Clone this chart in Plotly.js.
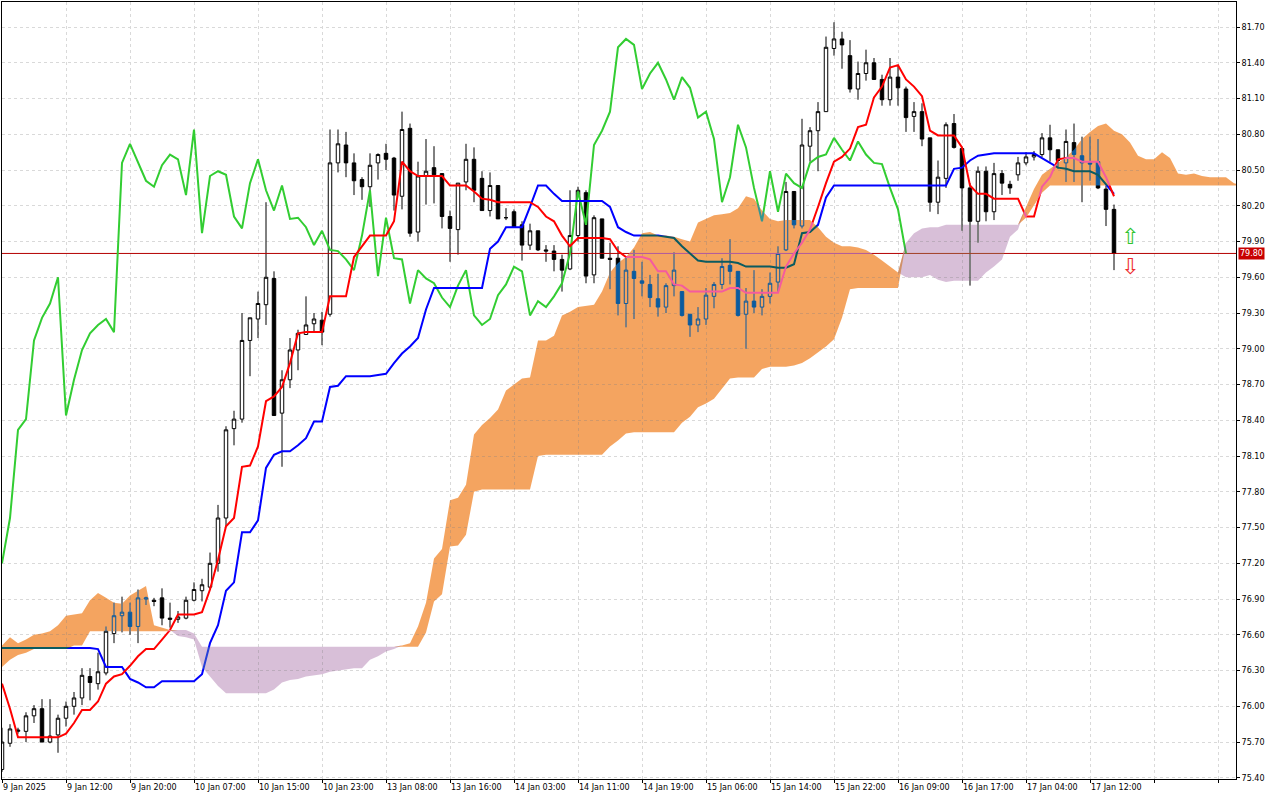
<!DOCTYPE html>
<html><head><meta charset="utf-8">
<script src="https://cdn.plot.ly/plotly-3.0.1.min.js"></script>
<style>
html,body{margin:0;padding:0;background:#fff;}
#chart{width:1280px;height:800px;}
.scatterlayer .js-fill{mix-blend-mode:exclusion;}
</style></head><body><div id="chart"></div>
<script>
const opens=[75.47,75.69,75.79,75.79,75.92,75.98,75.70,75.76,75.90,76.00,
76.07,76.25,76.19,76.28,76.61,76.76,76.79,76.67,76.90,76.89,
76.91,76.74,76.73,76.74,76.89,76.97,77.00,77.20,77.58,78.33,
78.41,79.07,79.25,79.37,79.59,78.46,78.74,78.99,79.12,79.21,
79.24,79.29,80.56,80.71,80.56,80.42,80.36,80.56,80.64,80.60,
80.28,80.85,79.98,80.45,80.52,80.47,80.11,80.00,80.40,80.59,
80.43,80.16,80.37,80.10,80.15,80.04,79.87,79.99,79.83,79.82,
79.75,79.67,79.95,80.31,79.62,80.09,79.76,79.76,79.38,79.65,
79.57,79.54,79.42,79.35,79.53,79.48,79.29,79.20,79.25,79.44,
79.54,79.70,79.65,79.29,79.40,79.35,79.44,79.56,79.83,80.32,
80.03,80.70,80.83,80.99,81.52,81.60,81.46,81.18,81.31,81.40,
81.26,81.09,81.28,81.18,80.95,80.99,80.77,80.23,80.43,80.89,
80.68,80.35,80.07,80.49,80.15,80.47,80.38,80.46,80.56,80.61,
80.63,80.77,80.67,80.56,80.73,80.62,80.56,80.57,80.34,80.17];
const highs=[75.82,75.85,75.82,75.95,76.01,76.06,76.06,75.93,76.04,76.12,
76.32,76.32,76.45,76.67,76.87,76.92,76.87,76.98,76.92,76.91,
76.99,76.87,76.80,76.92,77.04,77.07,77.29,77.69,78.35,78.48,
79.30,79.26,79.48,80.23,79.65,78.82,79.09,79.16,79.44,79.30,
79.31,80.84,80.84,80.82,80.64,80.44,80.64,80.64,80.72,80.61,
80.99,80.89,80.57,80.76,80.70,80.47,80.16,80.39,80.72,80.69,
80.49,80.48,80.37,80.18,80.17,80.07,80.05,79.99,79.87,79.87,
79.79,80.33,80.36,80.33,80.12,80.09,79.89,79.86,79.77,79.83,
79.73,79.62,79.63,79.55,79.81,79.48,79.29,79.35,79.51,79.56,
79.76,79.92,79.65,79.51,79.66,79.50,79.64,79.86,80.40,80.32,
80.93,80.86,81.07,81.62,81.74,81.66,81.59,81.41,81.51,81.44,
81.30,81.44,81.37,81.20,81.07,81.06,80.77,80.58,80.90,80.97,
80.68,80.39,80.53,80.53,80.56,80.50,80.41,80.61,80.65,80.66,
80.81,80.88,80.67,80.84,80.89,80.78,80.78,80.76,80.37,80.21];
const lows=[75.45,75.66,75.77,75.70,75.86,75.70,75.69,75.61,75.83,75.93,
76.01,76.05,76.14,76.26,76.53,76.62,76.60,76.53,76.85,76.84,
76.68,76.66,76.70,76.73,76.88,76.88,76.98,77.13,77.51,78.19,
78.38,78.77,79.09,79.20,78.44,78.01,78.67,78.82,79.12,79.14,
79.03,79.27,80.48,80.44,80.29,80.25,80.19,80.42,80.50,80.16,
80.17,79.94,79.90,80.21,80.22,80.01,79.73,79.79,80.33,80.23,
80.16,80.11,80.09,80.08,80.02,79.74,79.83,79.82,79.73,79.65,
79.48,79.66,79.90,79.55,79.55,79.76,79.50,79.28,79.18,79.25,
79.44,79.35,79.27,79.30,79.44,79.27,79.10,79.14,79.20,79.34,
79.50,79.54,79.27,79.00,79.30,79.28,79.38,79.48,79.82,80.01,
80.01,80.57,80.49,80.99,81.46,81.35,81.15,81.09,81.25,81.26,
81.04,81.04,81.04,80.82,80.82,80.70,80.15,80.13,80.35,80.68,
79.99,79.53,79.89,80.07,80.08,80.29,80.30,80.41,80.54,80.58,
80.61,80.57,80.51,80.40,80.40,80.23,80.41,80.34,80.03,79.66];
const closes=[75.70,75.81,75.80,75.92,75.98,75.70,75.75,75.90,76.00,76.07,
76.26,76.20,76.29,76.63,76.76,76.79,76.67,76.91,76.91,76.88,
76.74,76.73,76.75,76.89,76.98,77.02,77.20,77.58,78.32,78.41,
79.07,79.26,79.38,79.60,78.44,78.74,78.99,79.13,79.20,79.25,
79.14,80.56,80.72,80.56,80.41,80.36,80.54,80.63,80.59,80.29,
80.84,79.97,80.45,80.49,80.46,80.11,80.01,80.39,80.59,80.33,
80.16,80.37,80.09,80.10,80.02,79.87,79.99,79.83,79.82,79.75,
79.66,79.95,80.33,79.61,80.10,79.76,79.75,79.38,79.66,79.59,
79.55,79.43,79.35,79.53,79.66,79.28,79.20,79.25,79.45,79.54,
79.69,79.65,79.28,79.40,79.35,79.44,79.55,79.80,80.32,80.04,
80.71,80.83,80.99,81.53,81.60,81.55,81.18,81.31,81.40,81.26,
81.09,81.28,81.19,80.94,80.99,80.76,80.23,80.44,80.88,80.69,
80.35,80.07,80.49,80.15,80.47,80.39,80.35,80.56,80.61,80.63,
80.77,80.67,80.58,80.74,80.63,80.56,80.55,80.35,80.17,79.80];
const tenkan=[76.19,75.98,75.74,75.74,75.74,75.74,75.74,75.74,75.77,75.86,
75.97,75.97,76.04,76.19,76.25,76.27,76.34,76.42,76.48,76.48,
76.56,76.64,76.77,76.77,76.77,76.79,76.98,77.23,77.51,77.58,
78.01,78.02,78.18,78.56,78.60,78.68,78.88,79.13,79.14,79.14,
79.14,79.44,79.44,79.44,79.77,79.86,79.95,79.95,79.95,80.07,
80.57,80.49,80.45,80.45,80.45,80.45,80.37,80.37,80.37,80.32,
80.26,80.25,80.23,80.23,80.23,80.23,80.23,80.19,80.11,80.07,
79.95,79.86,79.93,79.93,79.93,79.93,79.92,79.82,79.77,79.77,
79.77,79.75,79.65,79.65,79.54,79.53,79.48,79.48,79.48,79.48,
79.48,79.51,79.51,79.47,79.47,79.47,79.47,79.47,79.69,79.80,
79.89,80.00,80.19,80.39,80.57,80.61,80.68,80.86,80.88,81.11,
81.20,81.36,81.38,81.26,81.20,81.12,80.83,80.79,80.79,80.79,
80.69,80.37,80.30,80.30,80.26,80.26,80.26,80.26,80.11,80.11,
80.36,80.44,80.59,80.60,80.60,80.57,80.57,80.57,80.44,80.28];
const kijun=[76.49,76.49,76.49,76.49,76.49,76.49,76.49,76.49,76.49,76.49,
76.49,76.49,76.48,76.33,76.33,76.33,76.23,76.20,76.16,76.16,
76.21,76.21,76.21,76.21,76.21,76.27,76.53,76.68,76.97,77.04,
77.46,77.46,77.56,78.00,78.11,78.14,78.14,78.19,78.25,78.39,
78.39,78.68,78.69,78.77,78.77,78.77,78.77,78.78,78.79,78.88,
78.96,79.02,79.09,79.33,79.51,79.51,79.51,79.51,79.51,79.51,
79.51,79.84,79.90,80.02,80.02,80.02,80.19,80.37,80.37,80.30,
80.24,80.24,80.24,80.24,80.24,80.24,80.19,80.02,79.98,79.95,
79.95,79.95,79.95,79.94,79.93,79.86,79.80,79.74,79.73,79.73,
79.73,79.73,79.72,79.69,79.69,79.69,79.69,79.68,79.68,79.71,
79.97,79.98,80.04,80.27,80.37,80.37,80.37,80.37,80.37,80.37,
80.37,80.37,80.37,80.37,80.37,80.37,80.37,80.37,80.37,80.51,
80.52,80.58,80.62,80.63,80.64,80.64,80.64,80.64,80.64,80.64,
80.60,80.56,80.52,80.51,80.49,80.49,80.49,80.46,80.38,80.30];
const senkouA=[76.51,76.58,76.53,76.56,76.60,76.61,76.63,76.68,76.76,76.77,
76.78,76.89,76.95,76.91,76.87,76.86,76.93,76.97,77.01,76.68,
76.66,76.64,76.59,76.58,76.56,76.33,76.25,76.17,76.11,76.11,
76.11,76.11,76.11,76.11,76.14,76.20,76.22,76.23,76.25,76.26,
76.27,76.29,76.30,76.31,76.32,76.32,76.39,76.42,76.46,76.48,
76.51,76.53,76.67,76.87,77.24,77.32,77.73,77.75,77.86,78.28,
78.36,78.42,78.49,78.65,78.70,78.75,78.76,79.07,79.07,79.11,
79.28,79.31,79.35,79.36,79.37,79.48,79.64,79.72,79.77,79.85,
79.97,79.98,79.95,79.95,79.94,79.92,79.90,80.06,80.09,80.12,
80.13,80.14,80.18,80.28,80.26,80.16,80.09,80.07,80.08,80.08,
80.08,80.08,80.02,79.94,79.89,79.86,79.86,79.85,79.83,79.79,
79.74,79.69,79.64,79.60,79.60,79.60,79.62,79.58,79.56,79.57,
79.57,79.57,79.57,79.64,79.69,79.75,79.94,80.00,80.19,80.34,
80.46,80.51,80.56,80.61,80.67,80.76,80.82,80.87,80.89,80.83,
80.80,80.73,80.62,80.59,80.59,80.65,80.60,80.47,80.46,80.47,
80.45,80.44,80.44,80.44,80.39,80.37];
const senkouB=[76.33,76.39,76.43,76.45,76.48,76.48,76.48,76.48,76.48,76.51,
76.51,76.63,76.63,76.63,76.63,76.63,76.63,76.63,76.63,76.63,
76.63,76.63,76.64,76.64,76.61,76.50,76.50,76.50,76.50,76.50,
76.50,76.50,76.50,76.50,76.50,76.50,76.50,76.50,76.50,76.50,
76.50,76.50,76.50,76.50,76.50,76.50,76.50,76.50,76.50,76.50,
76.50,76.50,76.50,76.62,76.88,76.94,77.34,77.35,77.44,77.80,
77.82,77.82,77.82,77.82,77.82,77.82,77.82,78.10,78.11,78.11,
78.11,78.11,78.11,78.11,78.11,78.11,78.18,78.23,78.29,78.30,
78.30,78.30,78.30,78.30,78.30,78.38,78.43,78.51,78.54,78.58,
78.67,78.75,78.76,78.76,78.76,78.83,78.85,78.85,78.85,78.86,
78.88,78.92,78.97,79.02,79.08,79.26,79.50,79.51,79.51,79.51,
79.51,79.51,79.51,79.89,79.97,80.01,80.02,80.02,80.04,80.04,
80.04,80.04,80.04,80.04,80.04,80.04,80.04,80.04,80.10,80.21,
80.31,80.37,80.37,80.37,80.37,80.37,80.37,80.37,80.37,80.37,
80.37,80.37,80.37,80.37,80.37,80.37,80.37,80.37,80.37,80.37,
80.37,80.37,80.37,80.37,80.37,80.37];
const tickBars=[0,8,16,24,32,40,48,56,64,72,80,88,96,104,112,120,128,136,144,152];
const tickLabels=["9 Jan 2025","9 Jan 12:00","9 Jan 20:00","10 Jan 07:00","10 Jan 15:00","10 Jan 23:00","13 Jan 08:00","13 Jan 16:00","14 Jan 03:00","14 Jan 11:00","14 Jan 19:00","15 Jan 06:00","15 Jan 14:00","15 Jan 22:00","16 Jan 09:00","16 Jan 17:00","17 Jan 04:00","17 Jan 12:00","",""];
const signalBars=[141,141];
const signalPrices=[79.94,79.69];
const signalGlyphs=["⇧","⇩"];
const signalColors=["#2fc42f","#ee2b2b"];
const chikouShift=26;
const xRange=[0,154.25];
const yRange=[75.390,81.910];

const bars=closes.map((_,i)=>i);
const chikouY=closes.slice(chikouShift);
const chikouX=chikouY.map((_,i)=>i);
const cloudX=senkouA.map((_,i)=>i);
const cloudTop=senkouA.map((a,i)=>Math.max(a,senkouB[i]));
const lastClose=closes[closes.length-1];
const FONT="DejaVu Sans";

const traces=[
 {type:'candlestick',x:bars,open:opens,high:highs,low:lows,close:closes,
  increasing:{line:{color:'#000',width:1},fillcolor:'#ffffff'},
  decreasing:{line:{color:'#000',width:1},fillcolor:'#000000'},
  whiskerwidth:0,hoverinfo:'skip'},
 {type:'scatter',mode:'lines',x:xRange,y:[lastClose,lastClose],line:{color:'#b40000',width:1},hoverinfo:'skip'},
 {type:'scatter',mode:'lines',x:chikouX,y:chikouY,line:{color:'#32cd32',width:2},hoverinfo:'skip'},
 {type:'scatter',mode:'lines',x:bars,y:kijun,line:{color:'#0000ff',width:2},hoverinfo:'skip'},
 {type:'scatter',mode:'lines',x:bars,y:tenkan,line:{color:'#ff0000',width:2},hoverinfo:'skip'},
 {type:'scatter',mode:'lines',x:cloudX,y:senkouB,line:{width:0},hoverinfo:'skip'},
 {type:'scatter',mode:'lines',x:cloudX,y:cloudTop,line:{width:0},fill:'tonexty',fillcolor:'#0b5b9f',hoverinfo:'skip'},
 {type:'scatter',mode:'lines',x:cloudX,y:senkouA,line:{width:0},hoverinfo:'skip'},
 {type:'scatter',mode:'lines',x:cloudX,y:cloudTop,line:{width:0},fill:'tonexty',fillcolor:'#274027',hoverinfo:'skip'}
];

const annotations=signalBars.map((b,i)=>({x:b,y:signalPrices[i],xref:'x',yref:'y',text:signalGlyphs[i],showarrow:false,
  borderpad:0,font:{family:FONT,size:22,color:signalColors[i]}}));
annotations.push({x:1,xref:'paper',xanchor:'left',xshift:2,y:lastClose,yref:'y',text:lastClose.toFixed(2),showarrow:false,
  bgcolor:'#c80000',font:{family:FONT,size:8,color:'#ffffff'},borderpad:1});

const layout={
 width:1280,height:800,margin:{l:2,r:44,t:2,b:21},
 paper_bgcolor:'#ffffff',plot_bgcolor:'#ffffff',showlegend:false,hovermode:false,
 boxgap:0.38,
 font:{family:FONT,size:8,color:'#000'},
 xaxis:{range:xRange,tickmode:'array',tickvals:tickBars,ticktext:tickLabels,ticks:'outside',ticklen:3,tickcolor:'#000',
   ticklabelposition:'outside right',showline:true,mirror:true,linecolor:'#000',linewidth:1,
   showgrid:true,gridcolor:'#d9d9d9',griddash:'3px,3px',zeroline:false,rangeslider:{visible:false},
   tickfont:{family:FONT,size:8,color:'#000'}},
 yaxis:{side:'right',range:yRange,tickmode:'linear',tick0:75.70,dtick:0.30,tickformat:'.2f',
   ticks:'outside',ticklen:3,tickcolor:'#000',showline:true,mirror:true,linecolor:'#000',linewidth:1,
   showgrid:true,gridcolor:'#d9d9d9',griddash:'3px,3px',zeroline:false,
   tickfont:{family:FONT,size:8,color:'#000'}},
 annotations:annotations
};

// The clipped plot group (g.overplot > g.xy) is composited on its own, so the cloud's
// blend needs a white backdrop and a copy of the grid inside that group.
function prepareBlend(gd){
  const fl=gd._fullLayout; if(!fl||!fl._size) return;
  const fs=fl._size;
  const NS='http://www.w3.org/2000/svg';
  gd.querySelectorAll('g.subplot').forEach(sp=>{
    const plotG=sp.querySelector('g.overplot > g')||sp.querySelector('g.plot');
    if(!plotG||plotG.querySelector('.blend-bg')) return;
    const grid=sp.querySelector('g.gridlayer')||gd.querySelector('g.gridlayer');
    const bg=document.createElementNS(NS,'rect');
    bg.setAttribute('class','blend-bg');
    bg.setAttribute('x','0');bg.setAttribute('y','0');
    bg.setAttribute('width',String(fs.w));bg.setAttribute('height',String(fs.h));
    bg.setAttribute('fill','#ffffff');
    let first=plotG.firstChild;
    if(grid){
      const gridCopy=grid.cloneNode(true);
      gridCopy.setAttribute('transform','translate('+(-fs.l)+','+(-fs.t)+')');
      plotG.insertBefore(gridCopy,first);
      first=gridCopy;
    }
    plotG.insertBefore(bg,first);
  });
}
const gdEl=document.getElementById('chart');
const drawn=Plotly.newPlot(gdEl,traces,layout,{staticPlot:true,displayModeBar:false});
try{prepareBlend(gdEl);}catch(e){}
if(gdEl.on) gdEl.on('plotly_afterplot',()=>{try{prepareBlend(gdEl);}catch(e){}});
if(drawn&&drawn.then) drawn.then(()=>{try{prepareBlend(gdEl);}catch(e){}});
</script></body></html>
